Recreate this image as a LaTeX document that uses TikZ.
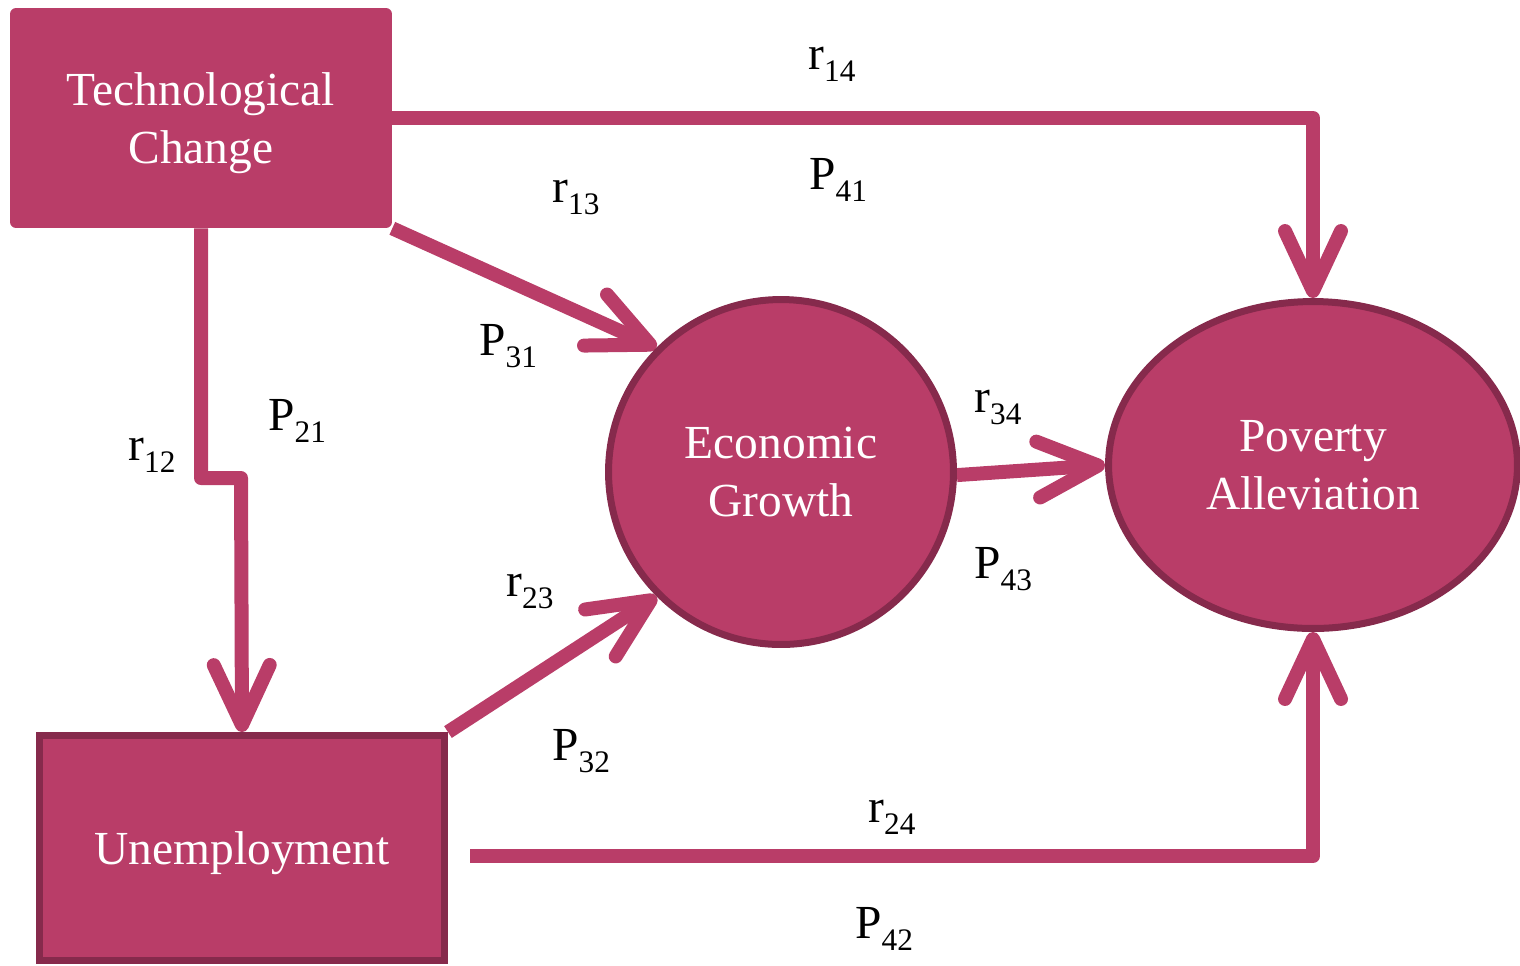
\documentclass[tikz,border=0pt]{standalone}
\usepackage{fontspec}
\setmainfont{Liberation Serif}
\usepackage{tikz}
\usetikzlibrary{positioning,arrows.meta,shapes.geometric,calc,backgrounds}
\definecolor{berry}{HTML}{B93D68}
\definecolor{berrydark}{HTML}{862A4C}
\newcommand{\coef}[2]{#1\raisebox{-0.26em}{\scalebox{0.66}{#2}}}

\begin{document}
\begin{tikzpicture}[
  x=0.02cm, y=-0.02cm,
  every node/.style={font=\fontsize{27}{33}\selectfont},
  var/.style={fill=berry, text=white, align=center, inner sep=2pt, text depth=-0.1cm},
  boxed/.style={var, draw=berrydark, line width=0.14cm},
  link/.style={draw=berry, line width=0.28cm, line join=round,
               -{Straight Barb[length=1.2cm, width=1.12cm, round]}},
  coeff/.style={anchor=base west, inner sep=0pt},
]
\useasboundingbox (0,0) rectangle (1520,965);

% variables
\node[var, rounded corners=0.12cm, minimum width=7.64cm, minimum height=4.4cm]
  (tc) at (201,118) {Technological\\Change};
\node[boxed, minimum width=8.1cm, minimum height=4.5cm]
  (un) at (242,848) {Unemployment};
\node[boxed, circle, minimum size=6.9cm]
  (eg) at (781,472) {Economic\\Growth};
\node[boxed, ellipse, minimum width=8.18cm, minimum height=6.54cm]
  (pa) at (1313,465) {Poverty\\Alleviation};

% paths
\begin{scope}[on background layer]
\coordinate (jog) at (241,478);
\coordinate (u4) at (470,856);
\draw[link] (tc.east) -| (pa.north);
\draw[link] (tc.south east) -- (eg.135);
\draw[link] (tc.south) |- (jog) -- (un.north);
\draw[link] (un.north east) -- (eg.225);
\draw[link] (eg.-1) -- (pa.west);
\draw[link] (u4) -| (pa.south);
\end{scope}

% coefficients
\node[coeff] (r14) at (808,69)  {\coef{r}{14}};
\node[coeff] (p41) at (809,189) {\coef{P}{41}};
\node[coeff] (r13) at (552,202) {\coef{r}{13}};
\node[coeff] (p31) at (479,355) {\coef{P}{31}};
\node[coeff] (p21) at (268,430) {\coef{P}{21}};
\node[coeff] (r12) at (128,460) {\coef{r}{12}};
\node[coeff] (r34) at (974,412) {\coef{r}{34}};
\node[coeff] (p43) at (974,578) {\coef{P}{43}};
\node[coeff] (r23) at (506,596) {\coef{r}{23}};
\node[coeff] (p32) at (552,760) {\coef{P}{32}};
\node[coeff] (r24) at (868,822) {\coef{r}{24}};
\node[coeff] (p42) at (855,938) {\coef{P}{42}};
\end{tikzpicture}
\end{document}
